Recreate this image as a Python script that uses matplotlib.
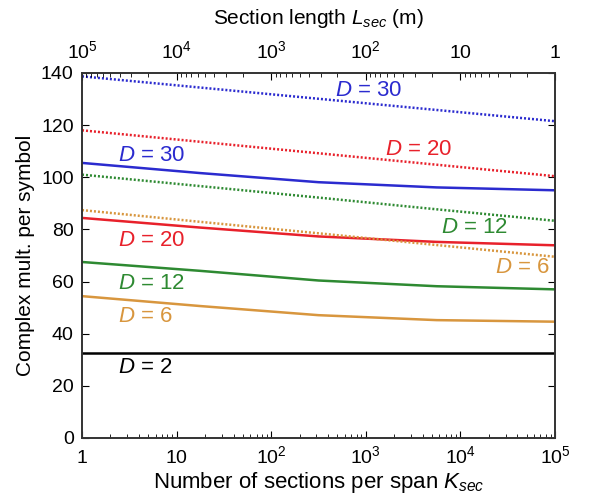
import numpy as np
import matplotlib
matplotlib.use("Agg")
import matplotlib.pyplot as plt
from matplotlib.ticker import FixedLocator, FixedFormatter, LogLocator, NullFormatter

plt.rcParams['font.family'] = ['Liberation Sans', 'DejaVu Sans']
plt.rcParams['mathtext.fontset'] = 'custom'
plt.rcParams['mathtext.rm'] = 'Liberation Sans'
plt.rcParams['mathtext.it'] = 'Liberation Sans:italic'

# Number of sections per span K_sec
K = [1, 10**1.25, 10**2.5, 10**3.75, 1e5]

# Solid curves
solid_D30 = [105.5, 101.6, 98.1, 96.1, 95.0]
solid_D20 = [84.4, 80.7, 77.3, 75.2, 73.9]
solid_D12 = [67.5, 64.1, 60.4, 58.2, 57.0]
solid_D6 = [54.4, 50.6, 47.1, 45.2, 44.6]
solid_D2 = [32.7, 32.7, 32.7, 32.7, 32.7]

# Dotted curves
dot_D30 = [138.7, 134.4, 130.1, 125.8, 121.5]
dot_D20 = [118.0, 113.6, 109.2, 104.8, 100.4]
dot_D12 = [101.0, 96.6, 92.2, 87.7, 83.3]
dot_D6 = [87.4, 82.9, 78.5, 74.0, 69.5]

# Tick labels
bot_ticks = [1, 10, 100, 1e3, 1e4, 1e5]
bot_labels = [r'$1$', r'$10$', r'$10^2$', r'$10^3$', r'$10^4$', r'$10^5$']
top_ticks = [1e5, 1e4, 1e3, 100, 10, 1]
top_labels = [r'$10^5$', r'$10^4$', r'$10^3$', r'$10^2$', r'$10$', r'$1$']

blue = '#2b2bcf'
red = '#e8212b'
green = '#2e8a32'
orange = '#d8963e'

fig = plt.figure(figsize=(5.9, 4.95), dpi=100)
ax = fig.add_axes([0.139, 0.1152, 0.8017, 0.7374])

lw_s = 1.8
lw_d = 1.8
ax.plot(K, solid_D30, color=blue, lw=lw_s)
ax.plot(K, solid_D20, color=red, lw=lw_s)
ax.plot(K, solid_D12, color=green, lw=lw_s)
ax.plot(K, solid_D6, color=orange, lw=lw_s)
ax.plot(K, solid_D2, color='black', lw=lw_s)
ax.plot(K, dot_D30, color=blue, lw=lw_d, ls=(0, (0.8, 0.8)))
ax.plot(K, dot_D20, color=red, lw=lw_d, ls=(0, (0.8, 0.8)))
ax.plot(K, dot_D12, color=green, lw=lw_d, ls=(0, (0.8, 0.8)))
ax.plot(K, dot_D6, color=orange, lw=lw_d, ls=(0, (0.8, 0.8)))

ax.set_xscale('log')
ax.set_xlim(1, 1e5)
ax.set_ylim(0, 140)
ax.set_yticks(range(0, 141, 20))

tfs = 14
ax.xaxis.set_major_locator(FixedLocator(bot_ticks))
ax.xaxis.set_major_formatter(FixedFormatter(bot_labels))
ax.xaxis.set_minor_locator(LogLocator(base=10, subs=np.arange(2, 10), numticks=20))
ax.xaxis.set_minor_formatter(NullFormatter())

ax.tick_params(which='both', direction='in', top=False, right=True, labelsize=tfs)
ax.tick_params(which='major', length=5)
ax.tick_params(which='minor', length=3)
ax.tick_params(axis='x', which='major', pad=18)
ax.tick_params(axis='y', which='major', pad=6)
for t in ax.get_xticklabels():
    t.set_va('baseline')

ax2 = ax.twiny()
ax2.set_xscale('log')
ax2.set_xlim(1e5, 1)
ax2.xaxis.set_major_locator(FixedLocator(top_ticks))
ax2.xaxis.set_major_formatter(FixedFormatter(top_labels))
ax2.xaxis.set_minor_locator(LogLocator(base=10, subs=np.arange(2, 10), numticks=20))
ax2.xaxis.set_minor_formatter(NullFormatter())
ax2.tick_params(which='both', direction='in', labelsize=tfs)
ax2.tick_params(which='major', length=5, pad=11)
ax2.tick_params(which='minor', length=3)
for t in ax2.get_xticklabels():
    t.set_va('baseline')

for a in (ax, ax2):
    for s in a.spines.values():
        s.set_color('#333333')
        s.set_linewidth(1.2)

ax.set_xlabel(r'Number of sections per span $K_{sec}$', fontsize=16)
ax.xaxis.set_label_coords(0.5, -0.088)
ax.set_ylabel('Complex mult. per symbol', fontsize=15)
ax.yaxis.set_label_coords(-0.1, 0.5)
ax2.set_xlabel(r'Section length $L_{sec}$ (m)', fontsize=15)
ax2.xaxis.set_label_coords(0.5, 1.135)

fs = 16
ax.text(10**2.67, 133.3, r'$D$ = 30', color=blue, fontsize=fs, va='center', ha='left')
ax.text(10**3.2, 110.6, r'$D$ = 20', color=red, fontsize=fs, va='center', ha='left')
ax.text(10**0.38, 108.4, r'$D$ = 30', color=blue, fontsize=fs, va='center', ha='left')
ax.text(10**3.8, 80.7, r'$D$ = 12', color=green, fontsize=fs, va='center', ha='left')
ax.text(10**0.38, 75.9, r'$D$ = 20', color=red, fontsize=fs, va='center', ha='left')
ax.text(10**4.37, 65.4, r'$D$ = 6', color=orange, fontsize=fs, va='center', ha='left')
ax.text(10**0.38, 59.3, r'$D$ = 12', color=green, fontsize=fs, va='center', ha='left')
ax.text(10**0.38, 46.5, r'$D$ = 6', color=orange, fontsize=fs, va='center', ha='left')
ax.text(10**0.38, 27.2, r'$D$ = 2', color='black', fontsize=fs, va='center', ha='left')

fig.savefig('out.png', dpi=100)
